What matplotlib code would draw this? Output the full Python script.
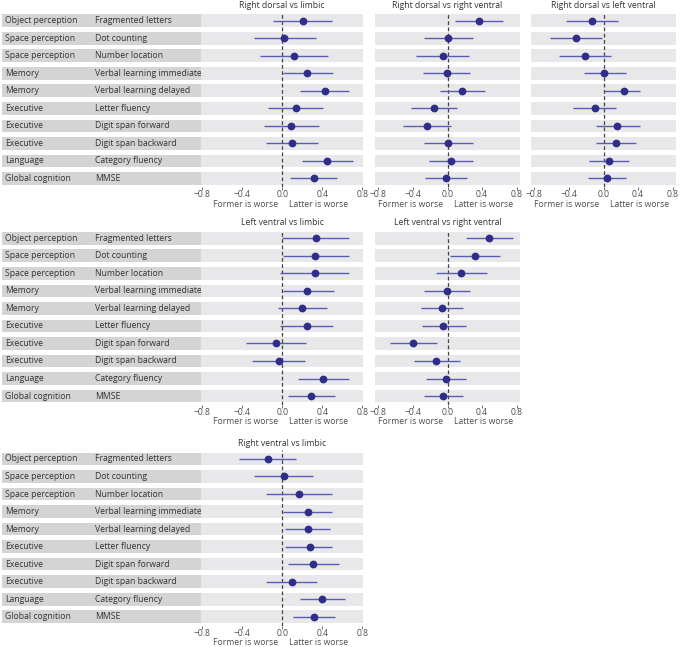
import numpy as np
import matplotlib.pyplot as plt
from matplotlib.transforms import blended_transform_factory

plt.rcParams['font.family'] = ['Open Sans', 'DejaVu Sans']

W, H = 680, 647

domains = ['Object perception', 'Space perception', 'Space perception', 'Memory', 'Memory',
           'Executive', 'Executive', 'Executive', 'Language', 'Global cognition']
tests = ['Fragmented letters', 'Dot counting', 'Number location', 'Verbal learning immediate',
         'Verbal learning delayed', 'Letter fluency', 'Digit span forward', 'Digit span backward',
         'Category fluency', 'MMSE']

# Right dorsal vs limbic
rdl_est = [0.21, 0.02, 0.12, 0.25, 0.43, 0.14, 0.09, 0.10, 0.45, 0.32]
rdl_lo = [-0.09, -0.28, -0.22, 0.01, 0.18, -0.14, -0.18, -0.16, 0.20, 0.08]
rdl_hi = [0.50, 0.34, 0.46, 0.51, 0.67, 0.41, 0.37, 0.36, 0.71, 0.55]

# Right dorsal vs right ventral
rdrv_est = [0.36, 0.01, -0.05, -0.01, 0.17, -0.16, -0.24, 0.00, 0.04, -0.02]
rdrv_lo = [0.09, -0.27, -0.37, -0.28, -0.09, -0.42, -0.52, -0.27, -0.21, -0.26]
rdrv_hi = [0.64, 0.30, 0.25, 0.26, 0.43, 0.11, 0.04, 0.29, 0.30, 0.23]

# Right dorsal vs left ventral
rdlv_est = [-0.13, -0.32, -0.21, 0.01, 0.24, -0.10, 0.16, 0.14, 0.06, 0.04]
rdlv_lo = [-0.43, -0.62, -0.51, -0.23, 0.01, -0.35, -0.09, -0.09, -0.17, -0.18]
rdlv_hi = [0.17, -0.02, 0.09, 0.26, 0.42, 0.15, 0.42, 0.38, 0.29, 0.26]

# Left ventral vs limbic
lvl_est = [0.34, 0.33, 0.33, 0.25, 0.20, 0.25, -0.06, -0.03, 0.41, 0.29]
lvl_lo = [0.00, 0.01, -0.02, 0.01, -0.04, -0.02, -0.36, -0.30, 0.16, 0.06]
lvl_hi = [0.67, 0.67, 0.67, 0.52, 0.45, 0.51, 0.24, 0.23, 0.67, 0.53]

# Left ventral vs right ventral
lvrv_est = [0.48, 0.32, 0.16, -0.01, -0.06, -0.05, -0.40, -0.13, -0.02, -0.05]
lvrv_lo = [0.21, 0.03, -0.13, -0.27, -0.31, -0.30, -0.67, -0.39, -0.25, -0.27]
lvrv_hi = [0.76, 0.61, 0.46, 0.26, 0.18, 0.21, -0.12, 0.14, 0.22, 0.18]

# Right ventral vs limbic
rvl_est = [-0.14, 0.02, 0.17, 0.26, 0.26, 0.28, 0.31, 0.10, 0.40, 0.32]
rvl_lo = [-0.43, -0.28, -0.16, 0.01, 0.03, 0.03, 0.06, -0.16, 0.18, 0.11]
rvl_hi = [0.14, 0.31, 0.50, 0.50, 0.48, 0.50, 0.57, 0.35, 0.63, 0.53]

ticks = [-0.8, -0.4, 0.0, 0.4, 0.8]
tick_labels = ['\u22120.8', '\u22120.4', '0.0', '0.4', '0.8']

BAND = '#e8e8ea'
LABEL_BAND = '#d4d4d4'
LINE = '#5b5bb5'
DOT = '#2e2e88'
TXT = '#333333'
FS = 6.2

fig = plt.figure(figsize=(W / 100, H / 100), dpi=100)


def px_axes(left, top, right, bottom):
    return fig.add_axes([left / W, 1 - bottom / H, (right - left) / W, (bottom - top) / H])


def draw_labels(ax):
    rows = np.arange(len(tests))
    ax.barh(rows, 1, left=0, height=0.72, color=LABEL_BAND, zorder=0)
    for r, d, t in zip(rows, domains, tests):
        ax.text(0.014, r, d, va='center', ha='left', fontsize=FS, color=TXT)
        ax.text(0.468, r, t, va='center', ha='left', fontsize=FS, color=TXT)
    ax.set_xlim(0, 1)
    ax.set_ylim(9.5, -0.5)
    ax.axis('off')


def draw_panel(ax, title, est, lo, hi, xlim):
    rows = np.arange(len(tests))
    ax.barh(rows, xlim[1] - xlim[0], left=xlim[0], height=0.72, color=BAND, zorder=0)
    ax.axvline(0, color='#444444', ls=(0, (3, 2)), lw=0.9, zorder=1)
    ax.hlines(rows, lo, hi, color=LINE, lw=1.0, zorder=2)
    ax.plot(est, rows, 'o', ms=4.6, color=DOT, zorder=3)
    ax.set_xlim(xlim)
    ax.set_ylim(9.5, -0.5)
    ax.set_xticks(ticks)
    ax.set_xticklabels(tick_labels)
    ax.set_yticks([])
    for s in ax.spines.values():
        s.set_visible(False)
    ax.tick_params(axis='x', length=1.8, width=0.6, color='#555555',
                   labelsize=FS, labelcolor='#4d4d4d', pad=0.5)
    ax.set_title(title, fontsize=FS, color=TXT, pad=3)
    tr = blended_transform_factory(ax.transData, ax.transAxes)
    ax.annotate('Former is worse', xy=(0, 0), xycoords=tr, xytext=(-4, -17),
                textcoords='offset pixels', ha='right', va='center', fontsize=FS, color='#4d4d4d')
    ax.annotate('Latter is worse', xy=(0, 0), xycoords=tr, xytext=(7, -17),
                textcoords='offset pixels', ha='left', va='center', fontsize=FS, color='#4d4d4d')


left_lim = (-0.81, 0.81)
right_lim = (-0.84, 0.84)

row_tops = [11.9, 229.5, 450.2]
row_h = 175.3

# row 1
t, b = row_tops[0], row_tops[0] + row_h
draw_labels(px_axes(2, t, 201, b))
draw_panel(px_axes(201, t, 363.3, b), 'Right dorsal vs limbic', rdl_est, rdl_lo, rdl_hi, left_lim)
draw_panel(px_axes(375, t, 520, b), 'Right dorsal vs right ventral', rdrv_est, rdrv_lo, rdrv_hi, right_lim)
draw_panel(px_axes(531, t, 676, b), 'Right dorsal vs left ventral', rdlv_est, rdlv_lo, rdlv_hi, right_lim)

# row 2
t, b = row_tops[1], row_tops[1] + row_h
draw_labels(px_axes(2, t, 201, b))
draw_panel(px_axes(201, t, 363.3, b), 'Left ventral vs limbic', lvl_est, lvl_lo, lvl_hi, left_lim)
draw_panel(px_axes(375, t, 520, b), 'Left ventral vs right ventral', lvrv_est, lvrv_lo, lvrv_hi, right_lim)

# row 3
t, b = row_tops[2], row_tops[2] + row_h
draw_labels(px_axes(2, t, 201, b))
draw_panel(px_axes(201, t, 363.3, b), 'Right ventral vs limbic', rvl_est, rvl_lo, rvl_hi, left_lim)

fig.savefig('out.png', dpi=100)
